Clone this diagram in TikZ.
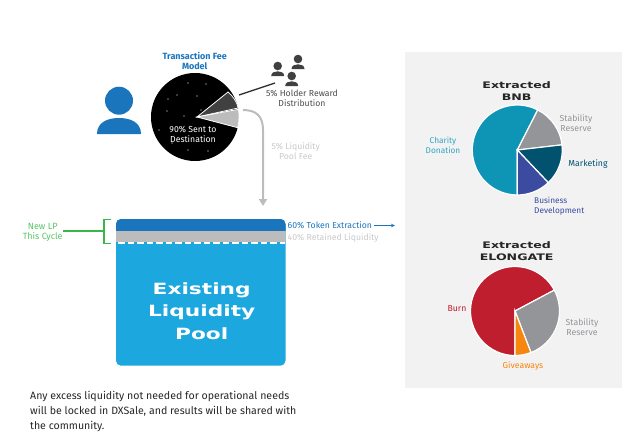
\documentclass[tikz,border=0pt]{standalone}
\usepackage{fontspec}
\setmainfont{Fira Sans}
\newfontfamily\widefont[FakeStretch=1.4]{DejaVu Sans Bold}
\usetikzlibrary{arrows.meta}
\definecolor{feeblue}{HTML}{1B75BC}
\definecolor{poolblue}{HTML}{1CA7DF}
\definecolor{lpgrey}{HTML}{BCBCBC}
\definecolor{panelgrey}{HTML}{F2F2F2}
\definecolor{softgrey}{HTML}{C9C9C9}
\definecolor{midgrey}{HTML}{939598}
\definecolor{teal1}{HTML}{0E94B5}
\definecolor{navy1}{HTML}{00526F}
\definecolor{indigo1}{HTML}{3A4BA0}
\definecolor{burnred}{HTML}{BE1E2D}
\definecolor{giveorange}{HTML}{F7860F}
\definecolor{lpgreen}{HTML}{39B54A}
\definecolor{lptext}{HTML}{58C566}
\tikzset{
 lbl/.style={inner sep=0pt,align=center,font=\fontsize{8.7}{10}\selectfont},
 lblsmall/.style={inner sep=0pt,align=center,font=\fontsize{8.3}{10}\selectfont},
 pietitle/.style={inner sep=0pt,align=center,text=black!85,font=\widefont\fontsize{9}{11.5}\selectfont},
 slice/.style={draw=white,line width=1.2pt,line join=miter},
 icon/.style={fill=#1,draw=none},
 star/.style={fill=white,draw=none}
}
\newcommand{\pieslice}[4]{\fill[slice,fill=#1] (0,0) -- (#2:#4) arc[start angle=#2,end angle=#3,radius=#4 pt] -- cycle;}
\begin{document}
\begin{tikzpicture}[x=1pt,y=-1pt]
\useasboundingbox (0,0) rectangle (640,440);
% panel
\fill[panelgrey] (405,52) rectangle (622,388);
% big person
\fill[icon=feeblue] (119,100.7) circle[radius=14];
\fill[icon=feeblue] (97,134) .. controls (97,122) and (108,118) .. (119,118) .. controls (130,118) and (141,122) .. (141,134) -- cycle;
% small persons
\foreach \px/\py in {277.7/66,298/59,291.7/76}{
 \fill[icon=black!75] (\px,\py) circle[radius=4.3];
 \fill[icon=black!75] (\px-6.5,\py+10) .. controls (\px-6.5,\py+6.5) and (\px-3,\py+5.3) .. (\px,\py+5.3) .. controls (\px+3,\py+5.3) and (\px+6.5,\py+6.5) .. (\px+6.5,\py+10) -- cycle;
}
% fee pie
\fill[black] (195,117) circle[radius=44];
\foreach \sx/\sy in {188/83,206/84,177/95,197/96,167/111,184/116,159/130,188/150,208/151,168/99,172/143,201/110}{
 \fill[star] (\sx,\sy) circle[radius=.6];
}
\fill[black!75,draw=white,line width=.8pt] (197,117) -- (228,92) .. controls (233,96) and (237,102) .. (238.2,108) -- cycle;
\fill[lpgrey,draw=white,line width=.8pt] (197,117) -- (238.4,109.3) .. controls (239.5,115) and (239,122) .. (237.7,127.7) -- cycle;
\node[inner sep=0pt,align=center,text=white,font=\fontsize{8.7}{10}\selectfont] (dest) at (193,134) {90\% Sent to\\Destination};
\node[lbl,text=feeblue,font=\bfseries\fontsize{9}{10}\selectfont] (feetitle) at (194.7,61) {Transaction Fee\\Model};
\node[lbl,text=black!70] (holder) at (302,98) {5\% Holder Reward\\Distribution};
\node[lbl,text=softgrey] (lpfee) at (295.7,151) {5\% Liquidity\\Pool Fee};
% connectors
\coordinate (hstart) at (239,95);
\coordinate (hend) at (275,83);
\draw[black!80,line width=1.3pt] (hstart) -- (hend);
\coordinate (fstart) at (243,110);
\coordinate (fend) at (263,206);
\draw[lpgrey,line width=2pt,-{Triangle[length=7pt,width=8pt]}] (fstart) .. controls (256,110) and (263,116) .. (263,130) -- (fend);
% pool
\fill[poolblue,rounded corners=5pt] (116,219) rectangle (285.5,365.7);
\begin{scope}
 \clip[rounded corners=5pt] (116,219) rectangle (285.5,365.7);
 \fill[feeblue] (116,219) rectangle (285.5,231);
 \fill[lpgrey] (116,231) rectangle (285.5,242);
\end{scope}
\coordinate (dl) at (118,243);
\coordinate (dr) at (285,243);
\draw[white,line width=1.2pt,dash pattern=on 6.5pt off 3pt] (dl) -- (dr);
\node[inner sep=0pt,align=center,text=white,font=\widefont\fontsize{15.5}{22.5}\selectfont] (pool) at (201.7,311) {Existing\\Liquidity\\Pool};
% bracket
\coordinate (ba) at (111,219.5);
\coordinate (bb) at (104,219.5);
\coordinate (bc) at (104,243.5);
\coordinate (bd) at (111,243.5);
\coordinate (be) at (104,231);
\draw[lpgreen,line width=1.8pt] (ba) -- (bb) -- (bc) -- (bd);
\node[inner sep=0pt,align=center,font=\fontsize{9}{10}\selectfont,text=lptext] (newlp) at (42.7,232) {New LP\\This Cycle};
\draw[lpgreen,line width=1.2pt] (63,231) -- (be);
% extraction labels
\node[lbl,anchor=west,text=feeblue] (extract) at (287.5,225.5) {60\% Token Extraction};
\node[lbl,anchor=west,text=softgrey] (retain) at (287.5,238.5) {40\% Retained Liquidity};
\coordinate (arrowend) at (395,225.5);
\draw[feeblue,line width=.9pt,-{Stealth[length=4pt,width=3.5pt]}] (374,225.5) -- (arrowend);
% BNB pie
\begin{scope}[shift={(517.3,150)},y=1pt]
 \pieslice{teal1}{63}{270}{45}
 \pieslice{midgrey}{6.6}{63}{45}
 \pieslice{navy1}{-46.5}{6.6}{45}
 \pieslice{indigo1}{-90}{-46.5}{45}
\end{scope}
\node[pietitle] (bnbtitle) at (516.7,91) {Extracted\\BNB};
\node[lbl,text=midgrey] (bnbstab) at (576,123) {Stability\\Reserve};
\node[lblsmall,text=teal1!85!white] (bnbchar) at (443,145.5) {Charity\\Donation};
\node[lbl,text=navy1] (bnbmark) at (588,164) {Marketing};
\node[lblsmall,anchor=west,text=indigo1,align=left] (bnbbiz) at (534,206) {Business\\Development};
% ELONGATE pie
\begin{scope}[shift={(515,311)},y=1pt]
 \pieslice{burnred}{28}{270}{44.5}
 \pieslice{midgrey}{-69}{28}{44.5}
 \pieslice{giveorange}{-90}{-69}{44.5}
\end{scope}
\node[pietitle] (elotitle) at (516.7,251) {Extracted\\ELONGATE};
\node[lbl,text=burnred] (burn) at (457,309) {Burn};
\node[lbl,text=midgrey] (elostab) at (582,327.5) {Stability\\Reserve};
\node[lbl,text=giveorange] (give) at (523,366) {Giveaways};
% note
\node[inner sep=0pt,anchor=north west,align=left,text=black!85,font=\fontsize{10.6}{15}\selectfont] (note) at (30,391.5) {Any excess liquidity not needed for operational needs\\will be locked in DXSale, and results will be shared with\\the community.};
\end{tikzpicture}
\end{document}
